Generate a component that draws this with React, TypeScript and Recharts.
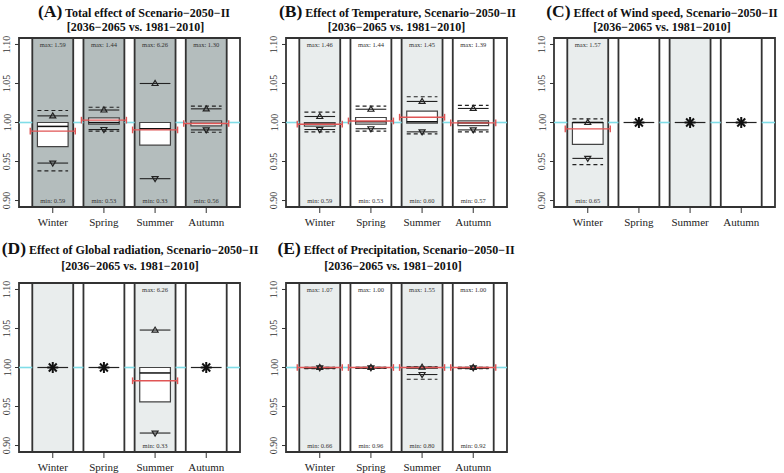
import React from 'react'
import { ComposedChart, XAxis, YAxis, ReferenceArea, ReferenceLine, ReferenceDot } from 'recharts'

const seasons = ['Winter', 'Spring', 'Summer', 'Autumn']
const letters = ['A', 'B', 'C', 'D', 'E']
const titles = [
  'Total effect of Scenario−2050−II',
  'Effect of Temperature, Scenario−2050−II',
  'Effect of Wind speed, Scenario−2050−II',
  'Effect of Global radiation, Scenario−2050−II',
  'Effect of Precipitation, Scenario−2050−II',
]
const period = '[2036−2065 vs. 1981−2010]'
const yTicks = [0.9, 0.95, 1.0, 1.05, 1.1]

// rows = panels A..E, columns = seasons; null box = no change (asterisk)
const q1 = [
  [0.969, 0.998, 0.971, 0.9957],
  [0.9953, 0.9978, 0.9993, 0.996],
  [0.972, null, null, null],
  [null, null, 0.956, null],
  [0.9992, 0.9994, 0.9993, 0.9992],
]
const median = [
  [0.995, 1.0, 0.992, 0.999],
  [0.998, 1.001, 1.001, 0.9995],
  [1.0, null, null, null],
  [null, null, 0.993, null],
  [0.9998, 0.9999, 0.9998, 0.9998],
]
const q3 = [
  [1.0, 1.006, 1.0, 1.002],
  [1.0, 1.0064, 1.0145, 1.002],
  [1.0, null, null, null],
  [null, null, 1.0, null],
  [1.0, 1.0, 1.0002, 1.0],
]
const mean = [
  [0.989, 1.003, 0.9905, 0.9987],
  [0.9978, 1.002, 1.0068, 0.9995],
  [0.9918, 1.0, 1.0, 1.0],
  [1.0, 1.0, 0.983, 1.0],
  [1.0, 1.0, 1.0, 1.0],
]
const upper = [
  [1.0085, 1.016, 1.05, 1.0175],
  [1.0077, 1.017, 1.027, 1.018],
  [1.0, null, null, null],
  [null, null, 1.048, null],
  [1.0, 1.0, 1.0003, 1.0],
]
const upperDash = [
  [1.0154, 1.0196, null, 1.021],
  [1.0133, 1.021, 1.033, 1.022],
  [1.0046, null, null, null],
  [null, null, null, null],
  [1.0002, 1.0002, 1.0008, 1.0002],
]
const lower = [
  [0.948, 0.991, 0.928, 0.9905],
  [0.991, 0.992, 0.988, 0.9905],
  [0.954, null, null, null],
  [null, null, 0.916, null],
  [0.9995, 0.9996, 0.991, 0.9995],
]
const lowerDash = [
  [0.938, 0.989, null, 0.9875],
  [0.988, 0.989, 0.9854, 0.988],
  [0.946, null, null, null],
  [null, null, null, null],
  [0.9985, 0.9988, 0.985, 0.9985],
]
const maxLabels = [
  ['1.59', '1.44', '6.26', '1.30'],
  ['1.46', '1.44', '1.45', '1.39'],
  ['1.57', null, null, null],
  [null, null, '6.26', null],
  ['1.07', '1.00', '1.55', '1.00'],
]
const minLabels = [
  ['0.59', '0.53', '0.33', '0.56'],
  ['0.59', '0.53', '0.60', '0.57'],
  ['0.65', null, null, null],
  [null, null, '0.33', null],
  ['0.66', '0.96', '0.80', '0.92'],
]

const SERIF = '"Liberation Serif", "DejaVu Serif", serif'
const DARK = '#b4bdbd'
const LIGHT = '#e9eded'
const BORDER = '#333'
const CYAN = '#80dde8'
const RED = '#e05555'
const X_DOMAIN: [number, number] = [0.34, 4.66]
const Y_DOMAIN: [number, number] = [0.8917, 1.1083]

const YTick = ({ x, y, payload }: any) => (
  <text x={x - 2.5} y={y} transform={`rotate(-90 ${x - 2.5} ${y})`} textAnchor="middle" fontSize={10} fontFamily={SERIF} fill="#333">
    {Number(payload.value).toFixed(2)}
  </text>
)

const XTick = ({ x, y, payload }: any) => (
  <text x={x} y={y} dy={11} textAnchor="middle" fontSize={11} fontFamily={SERIF} fill="#222">
    {seasons[payload.value - 1]}
  </text>
)

const TriUp = ({ cx, cy }: any) => (
  <path d={`M${cx - 3},${cy + 2} L${cx + 3},${cy + 2} L${cx},${cy - 3} Z`} fill="none" stroke="#222" strokeWidth={1.2} />
)
const TriDown = ({ cx, cy }: any) => (
  <path d={`M${cx - 3},${cy - 2} L${cx + 3},${cy - 2} L${cx},${cy + 3} Z`} fill="none" stroke="#222" strokeWidth={1.2} />
)
const Star = ({ cx, cy }: any) => {
  const r = 5.5
  const d = r * 0.72
  return (
    <g stroke="#111" strokeWidth={2}>
      <line x1={cx - r} y1={cy} x2={cx + r} y2={cy} />
      <line x1={cx} y1={cy - r} x2={cx} y2={cy + r} />
      <line x1={cx - d} y1={cy - d} x2={cx + d} y2={cy + d} />
      <line x1={cx - d} y1={cy + d} x2={cx + d} y2={cy - d} />
    </g>
  )
}
const label = (txt: string) => ({ cx, cy }: any) => (
  <text x={cx} y={cy} dy="0.35em" textAnchor="middle" fontSize={6.5} fontFamily={SERIF} fill="#333">{txt}</text>
)

function Panel({ k, left, top }: { k: number; left: number; top: number }) {
  const els: any[] = []
  // cyan reference at 1.00, visible only in the gaps between season columns
  const edges = [X_DOMAIN[0], ...seasons.flatMap((_, i) => [i + 1 - 0.4, i + 1 + 0.4]), X_DOMAIN[1]]
  for (let g = 0; g < edges.length; g += 2) {
    els.push(<ReferenceLine key={`cy${g}`} segment={[{ x: edges[g], y: 1 }, { x: edges[g + 1], y: 1 }]} stroke={CYAN} strokeWidth={1.6} />)
  }
  seasons.forEach((_, i) => {
    const fill = k === 0 ? DARK : i % 2 === 0 ? LIGHT : '#ffffff'
    els.push(
      <ReferenceArea key={`col${i}`} x1={i + 1 - 0.4} x2={i + 1 + 0.4} y1={Y_DOMAIN[0]} y2={Y_DOMAIN[1]} fill={fill} fillOpacity={1} stroke={BORDER} strokeWidth={1.8} />
    )
  })
  seasons.forEach((_, i) => {
    const x = i + 1
    const seg = (key: string, y: number | null, w: number, props: any) => {
      if (y == null) return
      els.push(<ReferenceLine key={key} segment={[{ x: x - w, y }, { x: x + w, y }]} {...props} />)
    }
    if (q1[k][i] != null) {
      els.push(
        <ReferenceArea key={`box${i}`} x1={x - 0.3} x2={x + 0.3} y1={q1[k][i]!} y2={q3[k][i]!} fill="#ffffff" fillOpacity={1} stroke="#444" strokeWidth={1.2} />
      )
      seg(`ud${i}`, upperDash[k][i], 0.3, { stroke: '#222', strokeWidth: 1.1, strokeDasharray: '4 3' })
      seg(`ld${i}`, lowerDash[k][i], 0.3, { stroke: '#222', strokeWidth: 1.1, strokeDasharray: '4 3' })
      seg(`us${i}`, upper[k][i], 0.3, { stroke: '#222', strokeWidth: 1.1 })
      seg(`ls${i}`, lower[k][i], 0.3, { stroke: '#222', strokeWidth: 1.1 })
      seg(`md${i}`, median[k][i], 0.3, { stroke: '#111', strokeWidth: 1.5 })
      const m = mean[k][i]
      seg(`mn${i}`, m, 0.44, { stroke: RED, strokeWidth: 1.4 })
      ;[-0.44, 0.44].forEach((o, j) => {
        els.push(
          <ReferenceLine key={`cap${i}${j}`} segment={[{ x: x + o, y: m - 0.0043 }, { x: x + o, y: m + 0.0043 }]} stroke={RED} strokeWidth={1.4} />
        )
      })
      if (upper[k][i] != null) els.push(<ReferenceDot key={`tu${i}`} x={x} y={upper[k][i]!} r={3} shape={TriUp} />)
      if (lower[k][i] != null) els.push(<ReferenceDot key={`td${i}`} x={x} y={lower[k][i]!} r={3} shape={TriDown} />)
    } else {
      seg(`nc${i}`, mean[k][i], 0.3, { stroke: '#222', strokeWidth: 1.2 })
      els.push(<ReferenceDot key={`st${i}`} x={x} y={mean[k][i]} r={5} shape={Star} />)
    }
    const mx = maxLabels[k][i]
    const mnl = minLabels[k][i]
    if (mx) els.push(<ReferenceDot key={`mx${i}`} x={x} y={1.1} r={1} shape={label(`max: ${mx}`)} />)
    if (mnl) els.push(<ReferenceDot key={`mi${i}`} x={x} y={0.9} r={1} shape={label(`min: ${mnl}`)} />)
  })
  els.push(
    <ReferenceArea key="frame" x1={X_DOMAIN[0]} x2={X_DOMAIN[1]} y1={Y_DOMAIN[0]} y2={Y_DOMAIN[1]} fill="none" stroke={BORDER} strokeWidth={1.8} />
  )

  return (
    <div style={{ position: 'absolute', left, top }}>
      <ComposedChart width={248} height={235} data={seasons.map((s, i) => ({ x: i + 1, name: s }))} margin={{ top: 38, right: 8, bottom: 0, left: 0 }}>
        <XAxis
          type="number"
          dataKey="x"
          domain={X_DOMAIN}
          allowDataOverflow
          ticks={[1, 2, 3, 4]}
          tick={<XTick />}
          tickSize={6}
          tickLine={{ stroke: '#333' }}
          axisLine={false}
          height={28}
        />
        <YAxis
          type="number"
          domain={Y_DOMAIN}
          allowDataOverflow
          ticks={yTicks}
          tick={<YTick />}
          tickSize={4}
          tickLine={{ stroke: '#333' }}
          axisLine={false}
          width={19}
        />
        {els}
      </ComposedChart>
    </div>
  )
}

const panelPos = [
  { left: 0, top: 0, c1: 134, c2: 135.5, b1: 17, b2: 30.5 },
  { left: 267, top: 0, c1: 397.5, c2: 396.5, b1: 17, b2: 30.5 },
  { left: 535, top: 0, c1: 662, c2: 662, b1: 17, b2: 30.5 },
  { left: 0, top: 245, c1: 130, c2: 130, b1: 254, b2: 269.5 },
  { left: 267, top: 245, c1: 396, c2: 393, b1: 254, b2: 269.5 },
]

export default function App() {
  return (
    <div style={{ position: 'absolute', left: 0, top: 0, width: 784, height: 473, background: '#fff', overflow: 'hidden' }}>
      {panelPos.map((p, k) => (
        <Panel key={k} k={k} left={p.left} top={p.top} />
      ))}
      <svg width={784} height={473} style={{ position: 'absolute', left: 0, top: 0, pointerEvents: 'none' }}>
        {panelPos.map((p, k) => (
          <g key={k} fontFamily={SERIF} fontWeight="bold" fill="#111" textAnchor="middle">
            <text x={p.c1} y={p.b1} fontSize={12}>
              <tspan fontSize={17.5}>({letters[k]})</tspan> {titles[k]}
            </text>
            <text x={p.c2} y={p.b2} fontSize={12}>{period}</text>
          </g>
        ))}
      </svg>
    </div>
  )
}
